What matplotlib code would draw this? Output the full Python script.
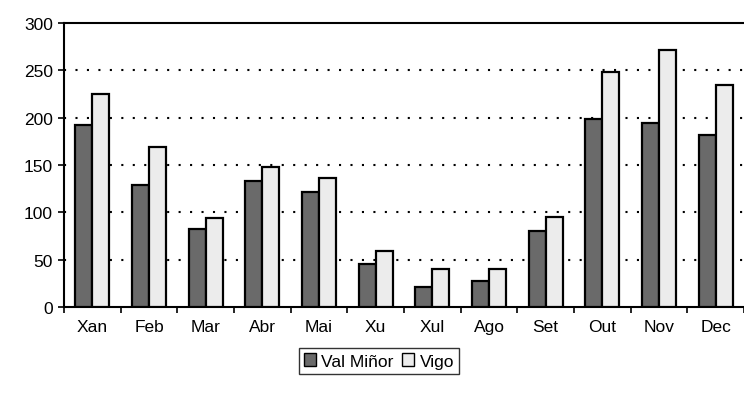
import matplotlib
matplotlib.use("Agg")
import matplotlib.pyplot as plt
import numpy as np

months = ["Xan", "Feb", "Mar", "Abr", "Mai", "Xu", "Xul", "Ago", "Set", "Out", "Nov", "Dec"]
val_minor = [192, 129, 82, 133, 122, 45, 21, 27, 80, 199, 194, 182]
vigo = [225, 169, 94, 148, 136, 59, 40, 40, 95, 248, 271, 235]
yticks = [0, 50, 100, 150, 200, 250, 300]

plt.rcParams["font.family"] = ["Liberation Sans", "DejaVu Sans"]

fig = plt.figure(figsize=(7.44, 4.06), dpi=100)
ax = fig.add_axes([64 / 744, 1 - 308 / 406, 1 - 64 / 744, (308 - 24) / 406])

x = np.arange(len(months))
w = 0.3
ax.bar(x - w / 2, val_minor, w, color="#6a6a6a", edgecolor="black", linewidth=1.6,
       label="Val Miñor", zorder=3)
ax.bar(x + w / 2, vigo, w, color="#ececec", edgecolor="black", linewidth=1.6,
       label="Vigo", zorder=3)

ax.set_xlim(-0.5, len(months) - 0.5)
ax.set_ylim(0, 300)
ax.set_yticks(yticks)
ax.set_yticklabels([str(v) for v in yticks], fontsize=12.5)
for v in yticks[1:-1]:
    ax.axhline(v, color="black", linestyle=(0, (1, 4.5)), linewidth=1.5, zorder=1)

ax.set_xticks(x)
ax.set_xticklabels(months, fontsize=12.5)
ax.tick_params(axis="x", which="major", length=0, pad=9)
ax.set_xticks(np.arange(-0.5, len(months)), minor=True)
ax.tick_params(axis="x", which="minor", length=4, width=1.2, direction="out")
ax.tick_params(axis="y", length=4, width=1.2, direction="out", pad=4)

ax.spines["right"].set_visible(False)
for s in ["left", "top", "bottom"]:
    ax.spines[s].set_linewidth(1.5)

leg = ax.legend(loc="upper center", bbox_to_anchor=(0.5 - 25 / 680, -0.145), ncol=2,
                fontsize=12.5, frameon=True, fancybox=False, edgecolor="black",
                handlelength=0.7, handleheight=0.7, handletextpad=0.3,
                columnspacing=0.5, borderpad=0.3, borderaxespad=0)
leg.get_frame().set_linewidth(1.0)
for h in leg.legend_handles:
    h.set_linewidth(1.0)

fig.savefig("out.png", dpi=100)
